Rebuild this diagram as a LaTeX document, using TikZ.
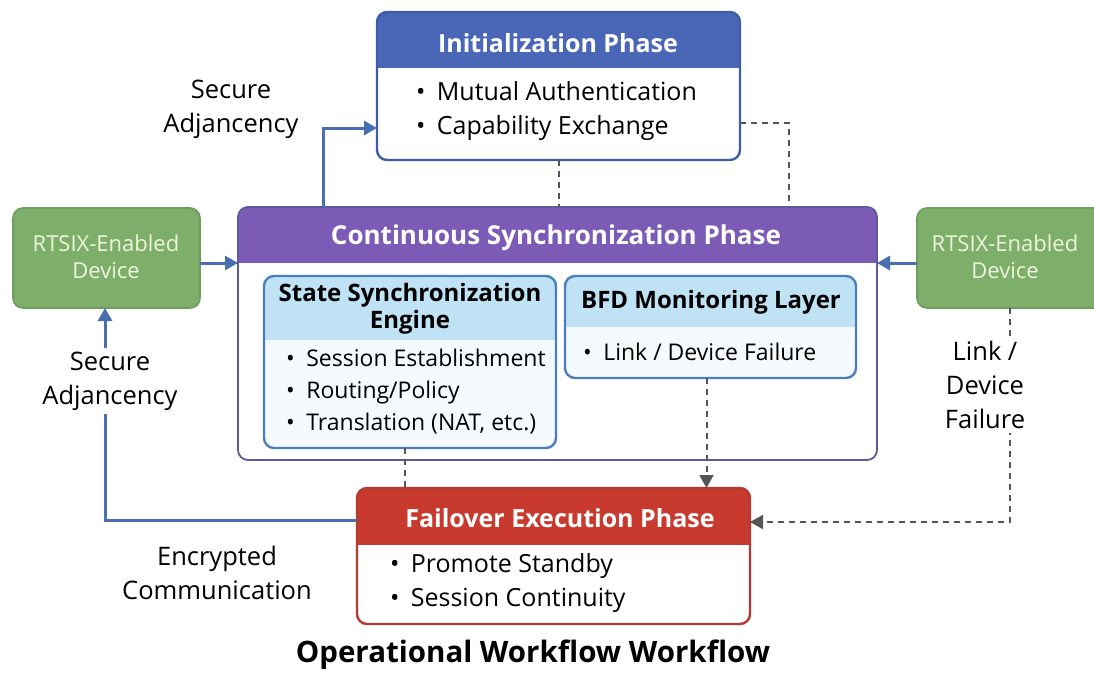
\documentclass[tikz,border=0pt]{standalone}
\usepackage{fontspec}
\setmainfont{Open Sans}
\usetikzlibrary{arrows.meta,calc,fit}
\definecolor{initblue}{HTML}{4A67B7}
\definecolor{initborder}{HTML}{3F5CA6}
\definecolor{syncpurple}{HTML}{7B5BB6}
\definecolor{syncborder}{HTML}{5D5A9E}
\definecolor{subhead}{HTML}{BFE3F5}
\definecolor{subbody}{HTML}{F4FAFD}
\definecolor{subborder}{HTML}{4A7EC0}
\definecolor{failred}{HTML}{C93A2E}
\definecolor{failborder}{HTML}{B53A31}
\definecolor{devgreen}{HTML}{7DAF6B}
\definecolor{devborder}{HTML}{6C9E5D}
\definecolor{devtext}{HTML}{EEF5DC}
\definecolor{flowblue}{HTML}{4A6FB0}
\definecolor{dashgray}{HTML}{555555}
\newcommand\phasebox[9]{%
  \fill[#9, rounded corners=10pt] (#2,#3) rectangle (#4,#5);
  \begin{scope}
    \clip[rounded corners=10pt] (#2,#3) rectangle (#4,#5);
    \fill[#7] (#2,#3) rectangle (#4,#6);
  \end{scope}
  \draw[#8, rounded corners=10pt] (#2,#3) rectangle (#4,#5);
  \node[fit={(#2,#3) (#4,#5)}, inner sep=0pt, outer sep=0pt] (#1) {};
}
\newcommand\bul{•\hspace{0.45em}}
\tikzset{
  headtext/.style={text=white, font=\fontsize{25}{29}\selectfont\bfseries},
  subtitle/.style={text=black, align=center, font=\fontsize{24}{27}\selectfont\bfseries},
  bullets/.style={anchor=west, align=left, inner sep=0pt, font=\fontsize{25}{34}\selectfont},
  smallbullets/.style={anchor=west, align=left, inner sep=0pt, font=\fontsize{23}{32}\selectfont},
  devtextstyle/.style={text=devtext, align=center, font=\fontsize{22}{27}\selectfont},
  lbl/.style={align=center, inner sep=2pt, font=\fontsize{25.5}{34}\selectfont},
  flow/.style={draw=flowblue, line width=3pt, -{Triangle[length=13pt,width=14pt]}},
  dashline/.style={draw=dashgray, line width=2pt, dash pattern=on 6pt off 5pt},
  dasharrow/.style={dashline, -{Triangle[length=13pt,width=14pt]}},
}
\begin{document}
\begin{tikzpicture}[x=1pt,y=-1pt]
\useasboundingbox[fill=white] (0,0) rectangle (1094,675);

% boxes
\phasebox{init}{377}{12}{740}{160}{68}{initblue}{initborder, line width=2.4pt}{white}
\phasebox{cont}{238}{207}{877}{460}{263}{syncpurple}{syncborder, line width=1.8pt}{white}
\phasebox{sse}{264}{276}{556}{448}{340}{subhead}{subborder, line width=2.4pt}{subbody}
\phasebox{bfd}{565}{276}{856}{378}{327}{subhead}{subborder, line width=2.4pt}{subbody}
\phasebox{fail}{357}{488}{750}{624}{545}{failred}{failborder, line width=2.4pt}{white}
\phasebox{ldev}{13}{208}{200}{308}{208}{devgreen}{devborder, line width=1.6pt}{devgreen}
\phasebox{rdev}{917}{208}{1104}{308}{208}{devgreen}{devborder, line width=1.6pt}{devgreen}

% texts in boxes
\node[headtext] (initT) at (558,43) {Initialization Phase};
\node[bullets] (initB) at (416,111) {\bul Mutual Authentication\\\bul Capability Exchange};
\node[headtext, font=\fontsize{26}{29}\selectfont\bfseries] (contT) at (556,238) {Continuous Synchronization Phase};
\node[subtitle] (sseT) at (410,309) {State Synchronization\\Engine};
\node[smallbullets] (sseB) at (286,392) {•\enspace Session Establishment\\•\enspace Routing/Policy\\•\enspace Translation (NAT, etc.)};
\node[subtitle] (bfdT) at (711,302) {BFD Monitoring Layer};
\node[smallbullets] (bfdB) at (583,352) {•\enspace Link / Device Failure};
\node[headtext] (failT) at (560,518) {Failover Execution Phase};
\node[bullets] (failB) at (390,583) {\bul Promote Standby\\\bul Session Continuity};
\node[devtextstyle] (ldevT) at (106,257) {RTSIX-Enabled\\Device};
\node[devtextstyle] (rdevT) at (1005,257) {RTSIX-Enabled\\Device};

% connectors
\draw[flow] ($(cont.north west)+(85,0)$) |- ($(init.north west)+(0,116)$);
\draw[dashline] (init.south) -- (init.south |- cont.north);
\draw[dashline] ($(init.north east)+(0,111)$) -| ($(cont.north west)+(551,0)$);
\draw[flow] ($(ldev.east)+(0,5)$) -- ($(ldev.east -| cont.west)+(0,5)$);
\draw[flow] ($(rdev.west)+(0,5)$) -- ($(rdev.west -| cont.east)+(0,5)$);
\draw[flow] ($(fail.north west)+(0,32)$) -| ($(ldev.south west)+(92,0)$);
\draw[dashline] ($(sse.south)+(-5,0)$) -- ($(sse.south |- fail.north)+(-5,0)$);
\draw[dasharrow] ($(bfd.south)+(-4,0)$) -- ($(bfd.south |- fail.north)+(-4,0)$);
\draw[dasharrow] ($(rdev.south)+(-1,0)$) |- ($(fail.north east)+(0,34)$);

% labels
\node[lbl] (lblSA1) at (231,109) {Secure\\Adjancency};
\node[lbl, fill=white, inner sep=4pt] (lblSA2) at (110,381) {Secure\\Adjancency};
\node[lbl] (lblEC) at (217,573) {Encrypted\\Communication};
\node[lbl, fill=white, inner sep=4pt] (lblLDF) at (985,385) {Link /\\Device\\Failure};

% title
\node[font=\fontsize{29.5}{34}\selectfont\bfseries] (title) at (533,655) {Operational Workflow Workflow};
\end{tikzpicture}
\end{document}
